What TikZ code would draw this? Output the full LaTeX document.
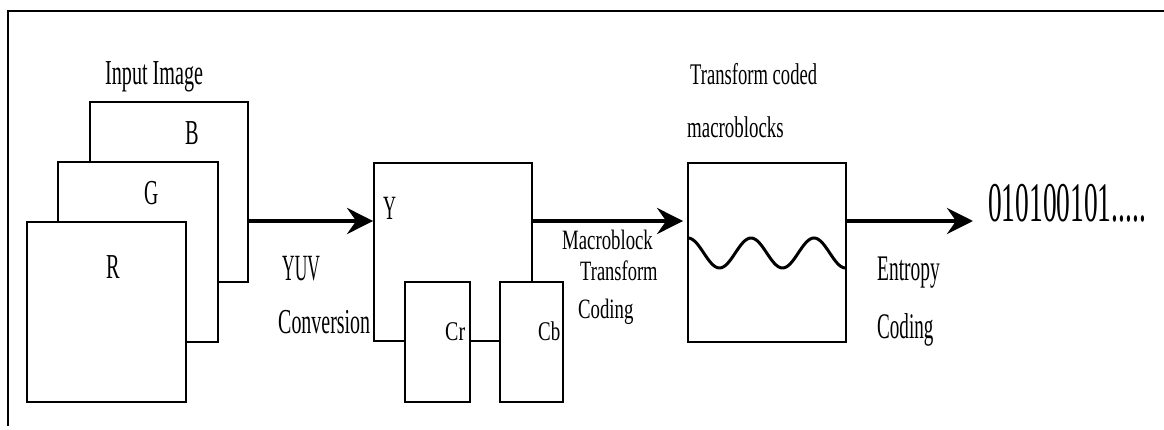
\documentclass[tikz,border=0pt]{standalone}
\usepackage{graphicx}
\usepackage{fontspec}
\setmainfont{Liberation Serif}
\usetikzlibrary{arrows.meta}
\newcommand\tx[3]{\scalebox{#2}[1]{\fontsize{#1}{#1}\selectfont #3}}
\begin{document}
\begin{tikzpicture}[x=1pt,y=-1pt,
 box/.style={draw,line width=1.8pt,fill=white,inner sep=0pt,rectangle},
 lab/.style={anchor=base west,inner sep=0pt},
 arr/.style={line width=4.5pt,-{Stealth[length=26pt,width=26pt,inset=9pt]}}]
\useasboundingbox (0,0) rectangle (1164,430);
\fill[white] (0,0) rectangle (1164,430);
\draw[line width=1.5pt] (1164,11) -- (8,11) -- (8,426);
\coordinate (lvl) at (0,221);
% input image planes
\node[box,minimum width=158pt,minimum height=180pt] (B) at (169,192) {};
\node[box,minimum width=160pt,minimum height=180pt] (G) at (138,252) {};
\node[box,minimum width=159pt,minimum height=180pt] (R) at (106.5,312) {};
% YUV
\node[box,minimum width=158pt,minimum height=178pt] (Y) at (453,252) {};
\node[box,minimum width=65pt,minimum height=120pt] (Cr) at (437.5,342) {};
\node[box,minimum width=63pt,minimum height=120pt] (Cb) at (531.5,342) {};
% transform coded block
\node[box,minimum width=158pt,minimum height=179pt] (W) at (767,252.5) {};
\draw[line width=3pt] plot[domain=0:158,samples=90,smooth] ({688+\x},{253-15*cos(5.714*\x)});
% bitstream
\node[anchor=base west,inner ysep=0pt,inner xsep=15pt] (bits) at (973,222) {\tx{56}{0.49}{010100101.....}};
% arrows
\draw[arr] (B.east |- lvl) -- (Y.west |- lvl);
\draw[arr] (Y.east |- lvl) -- ([xshift=-4pt]W.west |- lvl);
\draw[arr] (W.east |- lvl) -- (bits.west |- lvl);
% labels
\node[lab] (tIn) at (105,85) {\tx{35}{0.575}{Input Image}};
\node[lab] (tB) at (185,145) {\tx{35}{0.58}{B}};
\node[lab] (tG) at (144,205) {\tx{35}{0.56}{G}};
\node[lab] (tR) at (106,279) {\tx{35}{0.58}{R}};
\node[lab] (tYUV) at (282,280) {\tx{37}{0.47}{YUV}};
\node[lab] (tConv) at (278,333) {\tx{35}{0.57}{Conversion}};
\node[lab] (tY) at (383,220) {\tx{34}{0.53}{Y}};
\node[lab] (tCr) at (445,340) {\tx{27}{0.74}{Cr}};
\node[lab] (tCb) at (538,340) {\tx{27}{0.7}{Cb}};
\node[lab] (tMb) at (562,250) {\tx{28}{0.67}{Macroblock}};
\node[lab] (tTr) at (580,280) {\tx{28}{0.66}{Transform}};
\node[lab] (tCo) at (578,318) {\tx{28}{0.67}{Coding}};
\node[lab] (tTc) at (690,85) {\tx{30}{0.62}{Transform coded}};
\node[lab] (tMbs) at (687,138) {\tx{30}{0.63}{macroblocks}};
\node[lab] (tEn) at (877,280) {\tx{36}{0.54}{Entropy}};
\node[lab] (tEc) at (877,338) {\tx{36}{0.53}{Coding}};
\end{tikzpicture}
\end{document}
